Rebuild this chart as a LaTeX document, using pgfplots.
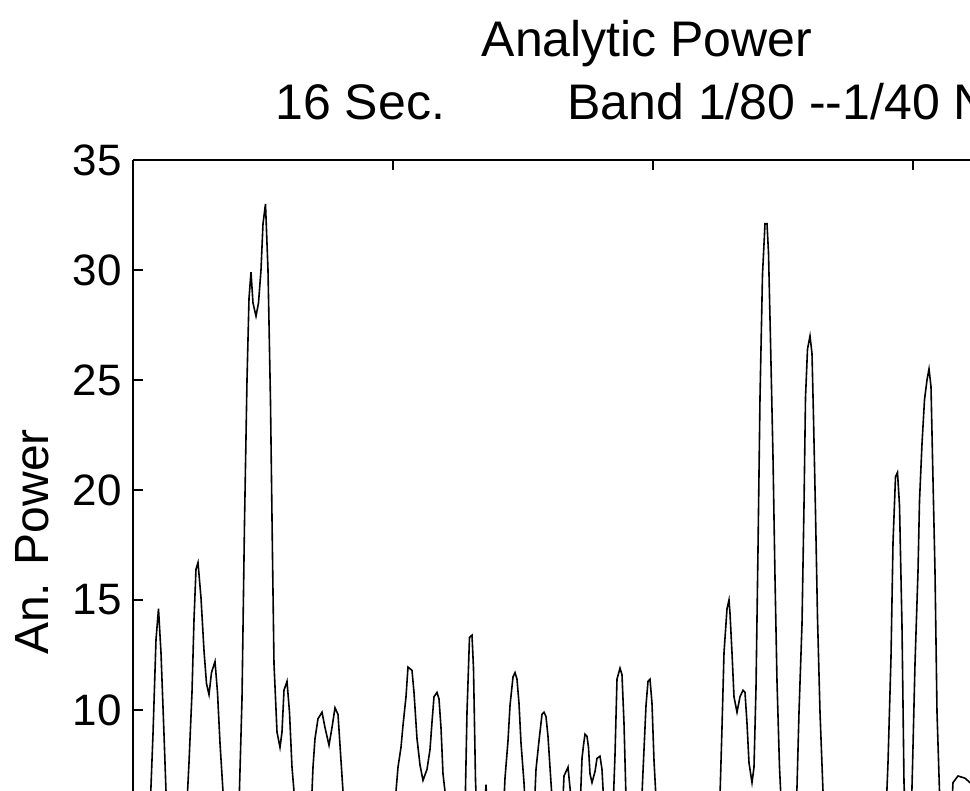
\documentclass[border=0pt]{standalone}
\usepackage{fontspec}
\setmainfont{Liberation Sans}
\usepackage{pgfplots}
\pgfplotsset{compat=1.18}

\begin{document}
\begin{tikzpicture}
% page = visible window of the original figure (1px = 0.5pt)
\path[use as bounding box] (-66.5pt,0pt) rectangle (418.5pt,395.5pt);

\begin{axis}[
    at={(0pt,0pt)}, anchor=south west,
    scale only axis,
    width=418.5pt, height=315.5pt,
    xmin=133, xmax=970,
    ymin=6.318, ymax=35,
    axis x line*=top,
    axis y line*=left,
    xtick={393,653,913},
    ytick={10,15,20,25,30,35},
    xticklabels={},
    tick align=inside,
    major tick length=5pt,
    axis line style={line width=0.9pt},
    every tick/.style={black, line width=0.9pt},
    /pgf/number format/assume math mode=true,
    yticklabel style={font=\fontsize{22}{22}\selectfont, inner sep=0pt, xshift=-5.5pt},
    ylabel={An. Power},
    ylabel style={at={(axis description cs:-0.1207,0.3946)}, anchor=center,
        font=\fontsize{24}{24}\selectfont},
]
\addplot[black, line width=0.8pt] coordinates {
    (133,3)
    (148,3) (153,8.9) (156,13.2) (158.5,14.6) (161,12.6) (164,8.9) (167,5) (172,3)
    (185,4) (189,7.6) (192,10.8) (194,14.1) (196,16.4) (198,16.7) (201,15.1)
    (204,12.7) (206.5,11.2) (209,10.7) (211.5,11.7) (215,12.2) (217.5,10.8)
    (220,8.5) (223,6.3) (227,3)
    (238,4) (242,10.5) (244.5,18.5) (247,25) (249,28.7) (251,29.9) (253,28.5)
    (256,27.9) (258.5,28.5) (261,30) (263,32.1) (265.5,33.0) (268,30)
    (270.5,24) (272.5,17) (274,12.1) (277,9.0) (280,8.3) (282,9) (284,10.9)
    (287,11.3) (289.5,9.9) (292,7.4) (294,6.3) (298,3)
    (309,3) (313,7.4) (315,8.7) (318,9.6) (322,9.9) (325,9.2) (329,8.4)
    (332,9.2) (335,10.1) (338,9.8) (341,7.7) (343,6.3) (347,3)
    (392,3) (396,6.3) (398,7.4) (401,8.3) (403,9.3) (406,10.6) (408,11.95)
    (412,11.8) (414,10.8) (417,8.7) (420,7.5) (423,6.8) (427,7.3) (430,8.2)
    (432,9.45) (434,10.6) (437,10.8) (439,10.5) (441,9.2) (443,7.1) (445,6.3)
    (449,3)
    (464,3) (467,9.9) (469.5,13.3) (472,13.4) (473.5,11.9) (475.5,6.8) (478,4)
    (483,4) (486,6.6) (489,4)
    (501,3) (505,6.9) (508,8.6) (510,10.2) (513,11.5) (515,11.7) (517,11.4)
    (519,10.3) (521,8.5) (524,6.7) (526,5) (530,3)
    (532,3) (536,7.3) (539,8.6) (542,9.8) (544,9.9) (546,9.7) (548,8.8)
    (550,7.4) (552,6.0) (556,3)
    (560,3) (564,7.0) (568,7.4) (571,6.0) (575,3)
    (578,3) (582,7.8) (583.5,8.4) (585,8.9) (587,8.8) (588.5,8.3) (590,7.1)
    (592,6.7) (595,7.2) (597,7.8) (600,7.9) (602,7.3) (603.5,6.0) (607,3)
    (611,3) (615,7.95) (617,11.4) (620,11.9) (622,11.6) (624,9.4) (626,6.0) (630,3)
    (639,3) (643,7.2) (646,10.2) (648,11.3) (650,11.4) (652,10.3) (654,7.7)
    (656,6.0) (660,3)
    (718,3) (722,9.2) (724,12.6) (727,14.6) (729,15.0) (730,14.4) (732,12.6)
    (734,10.6) (737,9.9) (740,10.6) (743,10.9) (745,10.8) (747,9.4) (749,7.6)
    (752,6.7)
    (754,7.4) (756,11.0) (758,17.3) (760,24.2) (762.5,29.8) (765,32.1)
    (767,32.1) (768.5,30.8) (770.5,26.8) (773,21.5) (775,16.0) (777,11.3)
    (779.5,7.4) (782,5) (786,3)
    (793,3) (797,6.5) (799,9.9) (802,13.9) (804,19.3) (805.5,24.2) (807.5,26.4)
    (810,27.0) (812,26.2) (813.5,23.3) (815.5,19.0) (817.5,14.2) (820,9.9)
    (823,6.3) (827,3)
    (884,3) (888,7.6) (891,12.4) (893,17.6) (895.5,20.6) (897.5,20.8)
    (899.5,19.3) (902,13.8) (904,6.7) (907,3)
    (910,3) (912.5,7.4) (915,12.1) (918,16.3) (919.5,19.5) (922,22.1)
    (924.5,24.1) (927,25.0) (929,25.5) (931,24.7) (932.5,21.5) (935,16.3)
    (937,9.9) (939.5,6.3) (943,3) (950,4) (953,6.7) (958,7.0) (965,6.9)
    (975,6.5) (985,4) (995,3)
};
\end{axis}

\node[anchor=base, inner sep=0pt, font=\fontsize{25}{25}\selectfont]
    at (257pt,367pt) {Analytic Power};
\node[anchor=base west, inner sep=0pt, font=\fontsize{25}{25}\selectfont]
    at (71pt,335.5pt) {16 Sec.};
\node[anchor=base west, inner sep=0pt, font=\fontsize{25}{25}\selectfont]
    at (217pt,335.5pt) {Band 1/80 -{}-1/40 Nyquist};
\end{tikzpicture}
\end{document}
